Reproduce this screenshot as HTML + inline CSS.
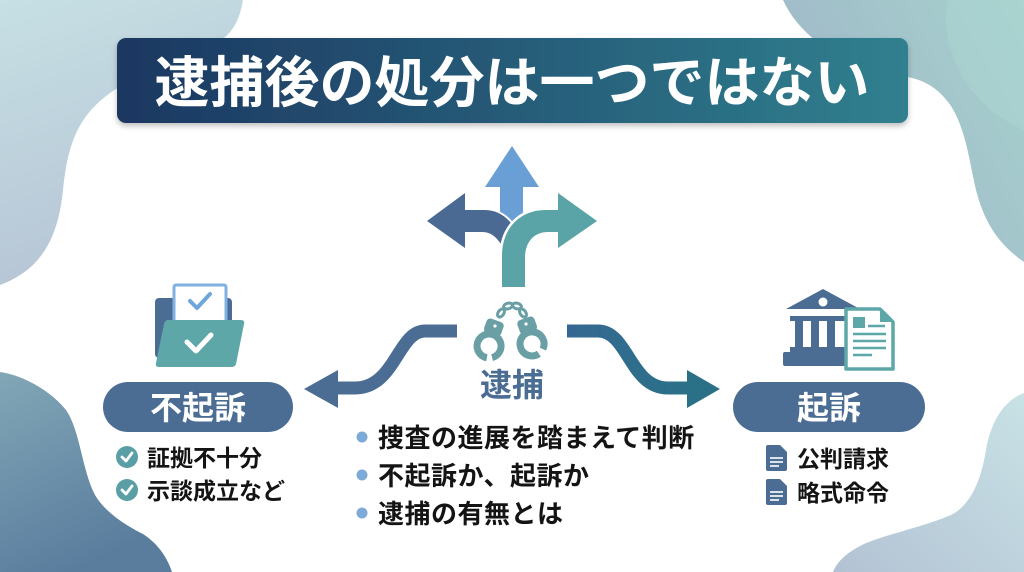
<!DOCTYPE html>
<html><head><meta charset="utf-8"><style>
html,body{margin:0;padding:0;background:#fff;}
svg{display:block;}
text{font-family:"Liberation Sans","Noto Sans CJK JP",sans-serif;font-weight:700;}
</style></head><body>
<svg width="1024" height="572" viewBox="0 0 1024 572" xmlns="http://www.w3.org/2000/svg">
<defs>
<linearGradient id="gTL" x1="0" y1="0" x2="0.3" y2="1"><stop offset="0" stop-color="#c6e0e4"/><stop offset="1" stop-color="#b6c4d5"/></linearGradient>
<linearGradient id="gTR" x1="0" y1="0.6" x2="1" y2="0"><stop offset="0" stop-color="#9fb5c8"/><stop offset="1" stop-color="#a6d2cd"/></linearGradient>
<linearGradient id="gBL" x1="0" y1="0" x2="0.4" y2="1"><stop offset="0" stop-color="#82a7b6"/><stop offset="1" stop-color="#5a7d9e"/></linearGradient>
<linearGradient id="gBR" x1="1" y1="0" x2="0" y2="1"><stop offset="0" stop-color="#c8e2e5"/><stop offset="1" stop-color="#b3c2d4"/></linearGradient>
<linearGradient id="gTitle" x1="0" y1="0" x2="1" y2="0"><stop offset="0" stop-color="#1c3761"/><stop offset="1" stop-color="#30808f"/></linearGradient>
<linearGradient id="gRight" x1="0" y1="0" x2="1" y2="0"><stop offset="0" stop-color="#356892"/><stop offset="1" stop-color="#2a7187"/></linearGradient>
<filter id="sh" x="-5%" y="-20%" width="110%" height="150%"><feDropShadow dx="0" dy="3" stdDeviation="3" flood-color="#000" flood-opacity="0.25"/></filter>
</defs>

<!-- background blobs -->
<path d="M0,0 L243,0 C240,18 234,30 224,38 C200,60 142,70 110,93 C80,115 68,140 63,190 C58,240 40,270 0,285 Z" fill="url(#gTL)"/>
<path d="M783,0 L1024,0 L1024,262 C1000,245 985,225 976,190 C969,160 966,130 951,106 C937,86 922,79 902,76 C862,70 832,56 815,40 C800,28 790,15 783,0 Z" fill="url(#gTR)"/>
<path d="M948,0 C938,45 965,105 1024,130 L1024,0 Z" fill="#acd6d2" opacity="0.5"/>
<path d="M0,372 C22,375 50,390 66,410 C80,430 82,470 95,495 C105,512 125,525 143,534 C160,545 168,560 172,572 L0,572 Z" fill="url(#gBL)"/>
<path d="M1024,393 C1005,400 991,420 986,450 C981,480 971,505 951,515 C921,528 882,535 862,545 C846,553 837,562 833,572 L1024,572 Z" fill="url(#gBR)"/>

<!-- title -->
<rect x="117" y="38" width="791" height="85" rx="9" fill="url(#gTitle)" filter="url(#sh)"/>
<text x="512" y="102" text-anchor="middle" font-size="55" fill="#ffffff">逮捕後の処分は一つではない</text>

<!-- fork icon -->
<polygon points="512,146 539,187 523,187 523,218 512,223 500,218 500,187 485,187" fill="#6a9fd6"/>
<g stroke="#fff" stroke-width="4" paint-order="stroke" stroke-linejoin="round">
<path d="M465,210 L485,210 C498,210 509,218 515,229 L503,247 C497,238 492,232 482,232 L465,232 Z" fill="#4a6a93"/>
</g>
<polygon points="427,221 465,193 465,248" fill="#4a6a93"/>
<g stroke="#fff" stroke-width="5" paint-order="stroke" stroke-linejoin="round">
<path d="M502,287 L502,256 C502,228 520,210 546,210 L560,210 L560,232 L548,232 C534,232 525,242 525,258 L525,287 Z" fill="#5aa3a6"/>
</g>
<polygon points="597,221 558,193 558,248" fill="#5aa3a6"/>

<!-- handcuffs -->
<g fill="#6b9fa6">
<rect x="485" y="320" width="18" height="15" rx="4" transform="rotate(20 494 327)"/>
<rect x="518" y="318" width="18" height="15" rx="4" transform="rotate(-20 527 325)"/>
</g>
<g fill="none" stroke="#6b9fa6" stroke-width="7">
<path d="M486.9,357.8 A12,12 0 1 1 492.1,357.6"/>
<path d="M538.9,353.8 A12,12 0 1 1 542.9,349.1"/>
</g>
<g fill="none" stroke="#6b9fa6" stroke-width="3">
<ellipse cx="501" cy="313" rx="4.5" ry="2.8" transform="rotate(-55 501 313)"/>
<ellipse cx="508" cy="306" rx="4.5" ry="2.8" transform="rotate(-15 508 306)"/>
<ellipse cx="517" cy="306" rx="4.5" ry="2.8" transform="rotate(15 517 306)"/>
<ellipse cx="523" cy="313" rx="4.5" ry="2.8" transform="rotate(55 523 313)"/>
</g>
<circle cx="495" cy="326" r="1.6" fill="#fff"/>
<circle cx="526" cy="324" r="1.6" fill="#fff"/>
<text x="512" y="396" text-anchor="middle" font-size="32" fill="#4b6d94">逮捕</text>

<!-- connectors -->
<path d="M457,331 L425,331 C398,331 395,388 355,388 L334,388" fill="none" stroke="#4b6d94" stroke-width="13"/>
<polygon points="338,370 304,389 338,408" fill="#4b6d94"/>
<path d="M567,331 L598,331 C628,331 630,388 668,388 L690,388" fill="none" stroke="url(#gRight)" stroke-width="13"/>
<polygon points="687,370 720,389 687,408" fill="#2a7187"/>

<!-- bullets -->
<g fill="#7eaad8"><circle cx="362" cy="437" r="5.5"/><circle cx="362" cy="475" r="5.5"/><circle cx="362" cy="513" r="5.5"/></g>
<g font-size="26" fill="#141414" letter-spacing="0.5">
<text x="378" y="447">捜査の進展を踏まえて判断</text>
<text x="378" y="485">不起訴か、起訴か</text>
<text x="378" y="523">逮捕の有無とは</text>
</g>

<!-- left: folder icon -->
<rect x="155" y="298" width="77" height="60" rx="4" fill="#4b6d94"/>
<rect x="174" y="285" width="52" height="40" rx="2" fill="#fff" stroke="#7fb2e2" stroke-width="3"/>
<polyline points="190,301 197,308 210,294" fill="none" stroke="#6fa6dc" stroke-width="4" stroke-linecap="round" stroke-linejoin="round"/>
<path d="M168,320 L241,320 Q245,320 244,324 L236,364 Q235,367 231,367 L159,367 Q155,367 156,363 L164,324 Q165,320 168,320 Z" fill="#5ea7a8"/>
<polyline points="187,342 196,351 211,335" fill="none" stroke="#fff" stroke-width="5" stroke-linecap="round" stroke-linejoin="round"/>

<rect x="103" y="382" width="190" height="50" rx="25" fill="#4b6d94"/>
<text x="198" y="419" text-anchor="middle" font-size="32" fill="#fff">不起訴</text>

<g fill="#5a9fa6"><circle cx="127" cy="457" r="11"/><circle cx="127" cy="490" r="11"/></g>
<g fill="none" stroke="#fff" stroke-width="2.8" stroke-linecap="round" stroke-linejoin="round">
<polyline points="122,457 126,461 132,453"/><polyline points="122,490 126,494 132,486"/>
</g>
<g font-size="23" fill="#141414">
<text x="147" y="466">証拠不十分</text>
<text x="147" y="499">示談成立など</text>
</g>

<!-- right: courthouse + document -->
<g fill="#4b6d94">
<polygon points="786,309 823,289 860,309"/>
<rect x="790" y="316" width="58" height="5"/>
<rect x="795" y="321" width="8" height="27"/>
<rect x="811" y="321" width="8" height="27"/>
<rect x="827" y="321" width="8" height="27"/>
<rect x="790" y="347" width="58" height="5"/>
<rect x="783" y="352" width="66" height="14" rx="2"/>
</g>
<circle cx="823" cy="302" r="4.5" fill="#fff"/>
<path d="M846,309 L880,309 L893,322 L893,369 L846,369 Z" fill="#fff" stroke="#5ea7a8" stroke-width="3.5" stroke-linejoin="round"/>
<polygon points="880,309 893,322 880,322" fill="#5ea7a8"/>
<rect x="853" y="317" width="12" height="11" fill="#5ea7a8"/>
<g stroke="#5ea7a8" stroke-width="2.5">
<line x1="868" y1="326" x2="885" y2="326"/>
<line x1="853" y1="334" x2="886" y2="334"/>
<line x1="853" y1="341" x2="886" y2="341"/>
<line x1="853" y1="348" x2="886" y2="348"/>
<line x1="853" y1="355" x2="872" y2="355"/>
</g>

<rect x="733" y="382" width="192" height="50" rx="25" fill="#4b6d94"/>
<text x="829" y="419" text-anchor="middle" font-size="32" fill="#fff">起訴</text>

<g fill="#4b6d94">
<path d="M768,445 L780,445 L787,452 L787,469 Q787,471 785,471 L768,471 Q766,471 766,469 L766,447 Q766,445 768,445 Z"/>
<path d="M768,479 L780,479 L787,486 L787,503 Q787,505 785,505 L768,505 Q766,505 766,503 L766,481 Q766,479 768,479 Z"/>
</g>
<g stroke="#fff" stroke-width="1.6">
<line x1="770" y1="458" x2="783" y2="458"/><line x1="770" y1="462" x2="783" y2="462"/><line x1="770" y1="466" x2="779" y2="466"/>
<line x1="770" y1="492" x2="783" y2="492"/><line x1="770" y1="496" x2="783" y2="496"/><line x1="770" y1="500" x2="779" y2="500"/>
</g>
<g font-size="23" fill="#141414">
<text x="797" y="467">公判請求</text>
<text x="797" y="501">略式命令</text>
</g>
</svg>
</body></html>
